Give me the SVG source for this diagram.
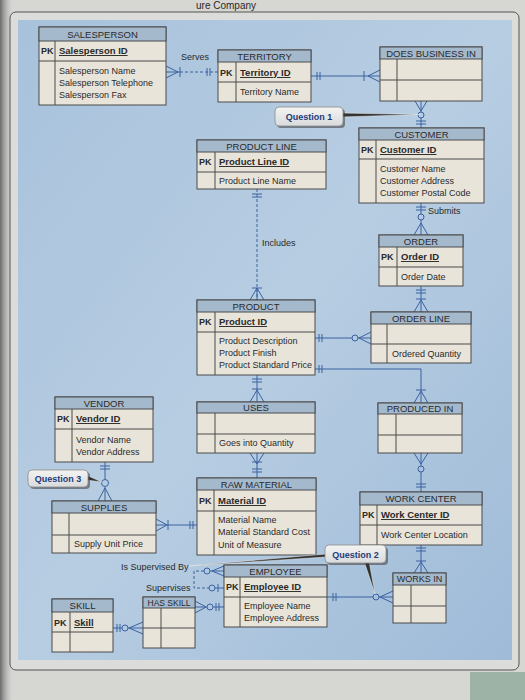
<svg xmlns="http://www.w3.org/2000/svg" width="525" height="700" viewBox="0 0 525 700">
<defs>
<linearGradient id="blue" x1="0" y1="0" x2="1" y2="1">
<stop offset="0" stop-color="#a8c2dc"/>
<stop offset="0.5" stop-color="#b7cde2"/>
<stop offset="1" stop-color="#9fbbd8"/>
</linearGradient>
<linearGradient id="fold" x1="0" y1="0" x2="1" y2="0">
<stop offset="0" stop-color="#6a6a6a"/>
<stop offset="1" stop-color="#d6d6d3" stop-opacity="0"/>
</linearGradient>
<linearGradient id="call" x1="0" y1="0" x2="0" y2="1">
<stop offset="0" stop-color="#f4f4f2"/>
<stop offset="1" stop-color="#d8dadc"/>
</linearGradient>
<style>
.hdr{fill:#a5b9cd;stroke:#4a4a4a;stroke-width:1}
.bd{fill:#e8e4da;stroke:#4a4a4a;stroke-width:1}
.dv{stroke:#4a4a4a;stroke-width:1;fill:none}
text{font-family:"Liberation Sans",Arial,sans-serif;fill:#2a2a2a}
.h{font-size:9.5px;text-anchor:middle}
.a{font-size:9px}
.pk{font-size:9px;font-weight:bold}
.k{font-size:9.5px;font-weight:bold;text-decoration:underline}
.lb{font-size:9px}
.ln{stroke:#3a62a0;stroke-width:1;fill:none}
.ds{stroke-dasharray:3 2}
.q{font-size:9px;font-weight:bold;fill:#1f3a78;text-anchor:middle}
.cb{fill:url(#call);stroke:#8a8a8a;stroke-width:0.8}
.sh{fill:#3b3b3b;opacity:0.55}
.tail{fill:#333;stroke:#f0f0f0;stroke-width:0.5}
</style>
</defs>

<!-- page -->
<rect x="0" y="0" width="525" height="700" fill="#d6d6d3"/>
<rect x="0" y="0" width="14" height="700" fill="url(#fold)"/>
<text x="196" y="9" font-size="10" fill="#333">ure Company</text>
<rect x="10" y="12" width="509" height="658" rx="6" fill="#dcdcda" stroke="#555" stroke-width="1"/>
<rect x="18" y="20" width="494" height="640" fill="url(#blue)"/>
<rect x="470" y="672" width="55" height="28" fill="#9db3a6"/>

<!-- connectors -->
<g id="connectors">
<!-- Serves -->
<path class="ln" d="M166,66 L178,72 M166,78 L178,72 M166,72 H180 M180,67 V77"/>
<path class="ln ds" d="M180,72 H218"/>
<path class="ln" d="M207,68 V76 M210,68 V76"/>
<!-- Territory - Does Business In -->
<path class="ln" d="M311,76 H380 M317,72 V80 M320,72 V80 M364,71 V81 M368,76 L380,70 M368,76 L380,82"/>
<!-- Does Business In - Customer -->
<path class="ln" d="M421,101 V112 M415,101 L421,111 M427,101 L421,111 M421,118 V128 M416,121 H426 M416,124 H426"/>
<circle class="ln" cx="421" cy="115" r="3"/>
<!-- Includes -->
<path class="ln ds" d="M257,189 V300"/>
<path class="ln" d="M252,194 H262 M252,197 H262 M252,288 H262 M257,288 L250,300 M257,288 L264,300 M257,288 V300"/>
<!-- Submits -->
<path class="ln" d="M421,203 V214 M416,207 H426 M416,210 H426 M421,220 V235 M421,223 L414,235 M421,223 L428,235"/>
<circle class="ln" cx="421" cy="217" r="3"/>
<!-- Order - Order Line -->
<path class="ln" d="M421,286 V312 M416,290 H426 M416,293 H426 M416,299 H426 M421,300 L414,312 M421,300 L428,312"/>
<!-- Product - Order Line -->
<path class="ln" d="M315,338 H352 M358,338 H371 M319,334 V342 M322,334 V342 M359,338 L371,332 M359,338 L371,344"/>
<circle class="ln" cx="355" cy="338" r="3"/>
<!-- Product - Produced In -->
<path class="ln" d="M315,369 H421 V403 M319,365 V373 M322,365 V373 M416,390 H426 M421,391 L414,403 M421,391 L428,403"/>
<!-- Produced In - Work Center -->
<path class="ln" d="M421,453 V466 M414,453 L421,464 M428,453 L421,464 M421,472 V492 M416,484 H426 M416,487 H426"/>
<circle class="ln" cx="421" cy="469" r="3"/>
<!-- Product - Uses -->
<path class="ln" d="M257,375 V402 M252,379 H262 M252,382 H262 M252,389 H262 M257,390 L250,402 M257,390 L264,402"/>
<!-- Uses - Raw Material -->
<path class="ln" d="M257,453 V478 M250,453 L257,464 M264,453 L257,464 M252,462 H262 M252,469 H262 M252,472 H262"/>
<!-- Vendor - Supplies -->
<path class="ln" d="M105,462 V479.5 M100,466 H110 M100,469 H110 M105,486.5 V501 M105,488 L98,501 M105,488 L112,501"/>
<circle class="ln" cx="105" cy="483" r="3.5"/>
<!-- Supplies - Raw Material -->
<path class="ln" d="M156,525 H197 M156,519 L167,525 M156,531 L167,525 M168,520 V530 M190,521 V529 M193,521 V529"/>
<!-- Work Center - Works In -->
<path class="ln" d="M421,545 V573 M416,548 H426 M416,551 H426 M416,561 H426 M421,562 L414,573 M421,562 L428,573"/>
<!-- Employee - Works In -->
<path class="ln" d="M327,597 H373 M379,597 H393 M333,593 V601 M336,593 V601 M380,597 L393,591 M380,597 L393,603"/>
<circle class="ln" cx="376" cy="597" r="3"/>
<!-- Supervises (recursive) -->
<path class="ln" d="M210,571 H224 M212,571 L224,566 M212,571 L224,576"/>
<circle class="ln" cx="207" cy="571" r="3"/>
<path class="ln ds" d="M204,571 H194 V588 H209"/>
<circle class="ln" cx="212" cy="588" r="3"/>
<path class="ln" d="M215,588 H224 M218,584 V592"/>
<!-- Has Skill - Employee -->
<path class="ln" d="M195,607 H207 M195,601 L206,607 M195,613 L206,607 M213,607 H224 M216,603 V611 M219,603 V611"/>
<circle class="ln" cx="210" cy="607" r="3"/>
<!-- Skill - Has Skill -->
<path class="ln" d="M113,628 H122 M128,628 H143 M117,624 V632 M120,624 V632 M129,628 L143,622 M129,628 L143,634"/>
<circle class="ln" cx="125" cy="628" r="3"/>
<!-- relationship labels -->
<text class="lb" x="181" y="60">Serves</text>
<text class="lb" x="262" y="246">Includes</text>
<text class="lb" x="428" y="214">Submits</text>
<text class="lb" x="121" y="570">Is Supervised By</text>
<text class="lb" x="146" y="591">Supervises</text>
</g>

<!-- entities -->
<g id="salesperson">
<rect class="bd" x="39" y="27" width="127" height="78"/>
<rect class="hdr" x="39" y="27" width="127" height="14"/>
<path class="dv" d="M39,61 H166 M55,41 V105"/>
<text class="h" x="102.5" y="38">SALESPERSON</text>
<text class="pk" x="41" y="54">PK</text>
<text class="k" x="59" y="54">Salesperson ID</text>
<text class="a" x="59" y="74">Salesperson Name</text>
<text class="a" x="59" y="86">Salesperson Telephone</text>
<text class="a" x="59" y="98">Salesperson Fax</text>
</g>

<g id="territory">
<rect class="bd" x="218" y="50" width="93" height="52"/>
<rect class="hdr" x="218" y="50" width="93" height="12"/>
<path class="dv" d="M218,82 H311 M236,62 V102"/>
<text class="h" x="264.5" y="60">TERRITORY</text>
<text class="pk" x="220" y="76">PK</text>
<text class="k" x="240" y="76">Territory ID</text>
<text class="a" x="240" y="95">Territory Name</text>
</g>

<g id="does-business-in">
<rect class="bd" x="380" y="47" width="102" height="54"/>
<rect class="hdr" x="380" y="47" width="102" height="12"/>
<path class="dv" d="M380,80 H482 M397,59 V101"/>
<text class="h" x="431" y="57">DOES BUSINESS IN</text>
</g>

<g id="customer">
<rect class="bd" x="359" y="128" width="125" height="75"/>
<rect class="hdr" x="359" y="128" width="125" height="12"/>
<path class="dv" d="M359,159 H484 M376,140 V203"/>
<text class="h" x="421.5" y="138">CUSTOMER</text>
<text class="pk" x="361" y="153">PK</text>
<text class="k" x="380" y="153">Customer ID</text>
<text class="a" x="380" y="172">Customer Name</text>
<text class="a" x="380" y="184">Customer Address</text>
<text class="a" x="380" y="196">Customer Postal Code</text>
</g>

<g id="product-line">
<rect class="bd" x="197" y="140" width="129" height="49"/>
<rect class="hdr" x="197" y="140" width="129" height="12"/>
<path class="dv" d="M197,172 H326 M215,152 V189"/>
<text class="h" x="261.5" y="150">PRODUCT LINE</text>
<text class="pk" x="199" y="165">PK</text>
<text class="k" x="219" y="165">Product Line ID</text>
<text class="a" x="219" y="184">Product Line Name</text>
</g>

<g id="order">
<rect class="bd" x="379" y="235" width="84" height="51"/>
<rect class="hdr" x="379" y="235" width="84" height="12"/>
<path class="dv" d="M379,267 H463 M397,247 V286"/>
<text class="h" x="421" y="245">ORDER</text>
<text class="pk" x="381" y="260">PK</text>
<text class="k" x="401" y="260">Order ID</text>
<text class="a" x="401" y="280">Order Date</text>
</g>

<g id="order-line">
<rect class="bd" x="371" y="312" width="100" height="51"/>
<rect class="hdr" x="371" y="312" width="100" height="12"/>
<path class="dv" d="M371,344 H471 M387,324 V363"/>
<text class="h" x="421" y="322">ORDER LINE</text>
<text class="a" x="392" y="357">Ordered Quantity</text>
</g>

<g id="product">
<rect class="bd" x="197" y="300" width="118" height="75"/>
<rect class="hdr" x="197" y="300" width="118" height="12"/>
<path class="dv" d="M197,332 H315 M215,312 V375"/>
<text class="h" x="256" y="310">PRODUCT</text>
<text class="pk" x="199" y="325">PK</text>
<text class="k" x="219" y="325">Product ID</text>
<text class="a" x="219" y="344">Product Description</text>
<text class="a" x="219" y="356">Product Finish</text>
<text class="a" x="219" y="368">Product Standard Price</text>
</g>

<g id="uses">
<rect class="bd" x="197" y="402" width="118" height="51"/>
<rect class="hdr" x="197" y="402" width="118" height="11"/>
<path class="dv" d="M197,434 H315 M215,413 V453"/>
<text class="h" x="256" y="411">USES</text>
<text class="a" x="219" y="446">Goes into Quantity</text>
</g>

<g id="produced-in">
<rect class="bd" x="378" y="403" width="84" height="50"/>
<rect class="hdr" x="378" y="403" width="84" height="11"/>
<path class="dv" d="M378,435 H462 M396,414 V453"/>
<text class="h" x="420" y="412">PRODUCED IN</text>
</g>

<g id="vendor">
<rect class="bd" x="55" y="397" width="98" height="65"/>
<rect class="hdr" x="55" y="397" width="98" height="12"/>
<path class="dv" d="M55,429 H153 M72,409 V462"/>
<text class="h" x="104" y="407">VENDOR</text>
<text class="pk" x="57" y="422">PK</text>
<text class="k" x="76" y="422">Vendor ID</text>
<text class="a" x="76" y="443">Vendor Name</text>
<text class="a" x="76" y="455">Vendor Address</text>
</g>

<g id="supplies">
<rect class="bd" x="52" y="501" width="104" height="52"/>
<rect class="hdr" x="52" y="501" width="104" height="12"/>
<path class="dv" d="M52,535 H156 M69,513 V553"/>
<text class="h" x="104" y="511">SUPPLIES</text>
<text class="a" x="74" y="547">Supply Unit Price</text>
</g>

<g id="raw-material">
<rect class="bd" x="197" y="478" width="119" height="77"/>
<rect class="hdr" x="197" y="478" width="119" height="12"/>
<path class="dv" d="M197,511 H316 M214,490 V555"/>
<text class="h" x="256.5" y="488">RAW MATERIAL</text>
<text class="pk" x="199" y="504">PK</text>
<text class="k" x="218" y="504">Material ID</text>
<text class="a" x="218" y="523">Material Name</text>
<text class="a" x="218" y="535">Material Standard Cost</text>
<text class="a" x="218" y="548">Unit of Measure</text>
</g>

<g id="work-center">
<rect class="bd" x="360" y="492" width="122" height="53"/>
<rect class="hdr" x="360" y="492" width="122" height="13"/>
<path class="dv" d="M360,525 H482 M377,505 V545"/>
<text class="h" x="421" y="502">WORK CENTER</text>
<text class="pk" x="362" y="518">PK</text>
<text class="k" x="381" y="518">Work Center ID</text>
<text class="a" x="381" y="538">Work Center Location</text>
</g>

<g id="works-in">
<rect class="bd" x="393" y="573" width="53" height="50"/>
<rect class="hdr" x="393" y="573" width="53" height="12"/>
<path class="dv" d="M393,606 H446 M411,585 V623"/>
<text class="h" x="419.5" y="582" style="font-size:9px">WORKS IN</text>
</g>

<g id="employee">
<rect class="bd" x="224" y="565" width="103" height="62"/>
<rect class="hdr" x="224" y="565" width="103" height="12"/>
<path class="dv" d="M224,597 H327 M240,577 V627"/>
<text class="h" x="275.5" y="575">EMPLOYEE</text>
<text class="pk" x="226" y="590">PK</text>
<text class="k" x="244" y="590">Employee ID</text>
<text class="a" x="244" y="609">Employee Name</text>
<text class="a" x="244" y="621">Employee Address</text>
</g>

<g id="has-skill">
<rect class="bd" x="143" y="597" width="52" height="51"/>
<rect class="hdr" x="143" y="597" width="52" height="11"/>
<path class="dv" d="M143,628 H195 M161,608 V648"/>
<text class="h" x="169" y="606" style="font-size:8.5px">HAS SKILL</text>
</g>

<g id="skill">
<rect class="bd" x="52" y="599" width="61" height="53"/>
<rect class="hdr" x="52" y="599" width="61" height="13"/>
<path class="dv" d="M52,632 H113 M70,612 V652"/>
<text class="h" x="82.5" y="609">SKILL</text>
<text class="pk" x="54" y="626">PK</text>
<text class="k" x="74" y="626">Skill</text>
</g>

<!-- callouts -->
<g id="question-1">
<polygon class="tail" points="341,113 420,114.5 341,117"/>
<rect class="sh" x="277" y="109" width="68" height="19" rx="4"/>
<rect class="cb" x="275" y="107" width="68" height="19" rx="4"/>
<text class="q" x="309" y="120">Question 1</text>
</g>

<g id="question-2">
<polygon class="tail" points="326,554 189,566 326,557"/>
<polygon class="tail" points="364,561 369,561 375,594"/>
<rect class="sh" x="327" y="547" width="61" height="18" rx="4"/>
<rect class="cb" x="325" y="545" width="61" height="18" rx="4"/>
<text class="q" x="355.5" y="557.5">Question 2</text>
</g>

<g id="question-3">
<polygon class="tail" points="86,475 102,482 86,480"/>
<rect class="sh" x="30" y="472" width="60" height="17" rx="4"/>
<rect class="cb" x="28" y="470" width="60" height="17" rx="4"/>
<text class="q" x="58" y="481.5">Question 3</text>
</g>
</svg>
